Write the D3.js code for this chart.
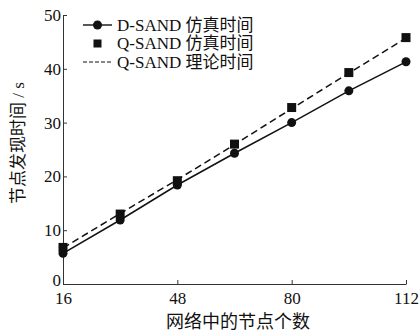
<!DOCTYPE html>
<html>
<head>
<meta charset="utf-8">
<script src="https://cdn.jsdelivr.net/npm/d3@7"></script>
<style>
  body { margin: 0; background: #fff; }
  svg text { font-family: "Liberation Serif", "Noto Sans CJK SC", serif; fill: #111; }
</style>
</head>
<body>
<div class="chart"></div>
<script>
const nodes = [16, 32, 48, 64, 80, 96, 112];
const dSandSim = [5.7, 11.9, 18.4, 24.3, 30.0, 35.9, 41.3];
const qSandSim = [6.8, 13.0, 19.2, 26.0, 32.8, 39.3, 45.8];
const qSandTheory = [6.7, 13.1, 19.4, 25.9, 32.6, 39.2, 45.7];
const xTicks = [16, 48, 80, 112];
const yTicks = [0, 10, 20, 30, 40, 50];
const legendLabels = ["D-SAND 仿真时间", "Q-SAND 仿真时间", "Q-SAND 理论时间"];

const width = 419;
const height = 332;
const margin = {top: 15, right: 13, bottom: 48, left: 63};

const svg = d3.select(".chart")
    .append("svg")
    .attr("width", width)
    .attr("height", height);

const x = d3.scaleLinear()
    .domain([16, 112])
    .range([margin.left, width - margin.right]);
const y = d3.scaleLinear()
    .domain([0, 50])
    .range([height - margin.bottom, margin.top]);

// axes, ticks point inward
svg.append("g")
    .attr("class", "x-axis")
    .attr("transform", `translate(0,${height - margin.bottom})`)
    .call(d3.axisBottom(x).tickValues(xTicks).tickSizeInner(-4).tickSizeOuter(0).tickPadding(8))
    .call(g => g.selectAll("text").style("font-size", "17px"));

svg.append("g")
    .attr("class", "y-axis")
    .attr("transform", `translate(${margin.left},0)`)
    .call(d3.axisLeft(y).tickValues(yTicks).tickSizeInner(-4).tickSizeOuter(0).tickPadding(2))
    .call(g => g.selectAll("text").style("font-size", "17px"))
    .call(g => g.selectAll(".tick text").filter(d => d === 0).attr("y", -4)); // keep 0 clear of 16

svg.selectAll(".domain, .tick line").attr("stroke", "#333").attr("stroke-width", 1);

// axis titles
svg.append("text")
    .attr("x", 238)
    .attr("y", 328)
    .attr("text-anchor", "middle")
    .style("font-size", "18px")
    .text("网络中的节点个数");

svg.append("text")
    .attr("transform", "translate(24,143) rotate(-90)")
    .attr("text-anchor", "middle")
    .style("font-size", "17px")
    .text("节点发现时间 / s");

const line = d3.line()
    .x((d, i) => x(nodes[i]))
    .y(d => y(d));

svg.append("path")
    .attr("d", line(qSandTheory))
    .attr("fill", "none")
    .attr("stroke", "#111")
    .attr("stroke-width", 1.5)
    .attr("stroke-dasharray", "7,4");

svg.append("path")
    .attr("d", line(dSandSim))
    .attr("fill", "none")
    .attr("stroke", "#111")
    .attr("stroke-width", 1.5);

svg.selectAll(".dot")
    .data(dSandSim)
    .enter()
    .append("circle")
    .attr("class", "dot")
    .attr("cx", (d, i) => x(nodes[i]))
    .attr("cy", d => y(d))
    .attr("r", 4.5)
    .attr("fill", "#111");

svg.selectAll(".sq")
    .data(qSandSim)
    .enter()
    .append("rect")
    .attr("class", "sq")
    .attr("x", (d, i) => x(nodes[i]) - 4.5)
    .attr("y", d => y(d) - 4.5)
    .attr("width", 9)
    .attr("height", 9)
    .attr("fill", "#111");

// legend
const legend = svg.append("g").attr("class", "legend");
const rowY = [25, 43.5, 62];
const x0 = 83, x1 = 112, xm = (x0 + x1) / 2;

legend.append("line")
    .attr("x1", x0).attr("x2", x1).attr("y1", rowY[0]).attr("y2", rowY[0])
    .attr("stroke", "#111").attr("stroke-width", 1.4);
legend.append("circle")
    .attr("cx", xm).attr("cy", rowY[0]).attr("r", 4.5).attr("fill", "#111");
legend.append("rect")
    .attr("x", xm - 4).attr("y", rowY[1] - 4).attr("width", 8).attr("height", 8).attr("fill", "#111");
legend.append("line")
    .attr("x1", x0).attr("x2", x1).attr("y1", rowY[2]).attr("y2", rowY[2])
    .attr("stroke", "#111").attr("stroke-width", 1.2).attr("stroke-dasharray", "4,2");

legend.selectAll(".label")
    .data(legendLabels)
    .enter()
    .append("text")
    .attr("class", "label")
    .attr("x", 117)
    .attr("y", (d, i) => rowY[i])
    .attr("dy", ".35em")
    .style("font-size", "17px")
    .text(d => d);
</script>
</body>
</html>
